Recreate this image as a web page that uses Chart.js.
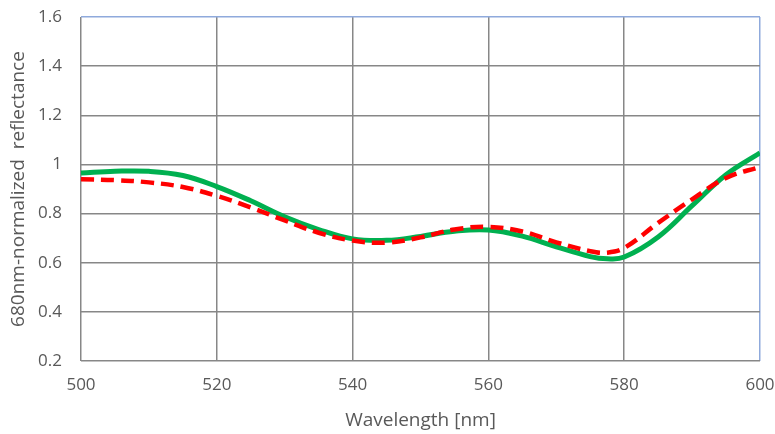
<!DOCTYPE html>
<html>
<head>
<meta charset="utf-8">
<script src="https://cdn.jsdelivr.net/npm/chart.js@4/dist/chart.umd.min.js"></script>
<style>
  html, body { margin: 0; padding: 0; background: #ffffff; }
  #wrap { width: 775px; height: 434px; position: relative; }
</style>
</head>
<body>
<div id="wrap"><canvas id="c" width="775" height="434"></canvas></div>
<script>
// ---- data ----
const wavelengths = [500, 505, 510, 515, 520, 525, 530, 535, 540, 545, 550, 555, 560, 565, 570, 575, 577.5, 580, 585, 590, 595, 600];
const greenReflectance = [0.965, 0.972, 0.972, 0.955, 0.910, 0.852, 0.787, 0.735, 0.697, 0.691, 0.707, 0.728, 0.733, 0.708, 0.665, 0.625, 0.616, 0.623, 0.705, 0.832, 0.958, 1.047];
const redReflectance   = [0.940, 0.936, 0.927, 0.908, 0.872, 0.825, 0.772, 0.722, 0.690, 0.682, 0.703, 0.735, 0.746, 0.727, 0.683, 0.647, 0.641, 0.660, 0.762, 0.858, 0.945, 0.990];
const xTickValues = [500, 520, 540, 560, 580, 600];
const yTickValues = [0.2, 0.4, 0.6, 0.8, 1.0, 1.2, 1.4, 1.6];
const yTickLabels = ['0.2', '0.4', '0.6', '0.8', '1', '1.2', '1.4', '1.6'];
const xTitle = 'Wavelength [nm]';
const yTitle = '680nm-normalized  reflectance';

const toPoints = (xs, ys) => xs.map((x, i) => ({ x: x, y: ys[i] }));

const GRID = '#878787';
const EDGE = '#8faadc';
const TEXT = '#595959';
const FONT = '"Open Sans", "Liberation Sans", sans-serif';

new Chart(document.getElementById('c'), {
  type: 'line',
  data: {
    datasets: [
      {
        label: 'green',
        data: toPoints(wavelengths, greenReflectance),
        borderColor: '#00b050',
        borderWidth: 5,
        pointRadius: 0,
        tension: 0.4,
        fill: false,
        order: 1
      },
      {
        label: 'red',
        data: toPoints(wavelengths, redReflectance),
        borderColor: '#ff0000',
        borderWidth: 4.5,
        borderDash: [13, 7],
        borderCapStyle: 'butt',
        pointRadius: 0,
        tension: 0.4,
        fill: false,
        order: 0
      }
    ]
  },
  options: {
    responsive: false,
    animation: false,
    events: [],
    layout: { padding: { left: 0, right: 15, top: 17, bottom: 0 } },
    plugins: { legend: { display: false }, tooltip: { enabled: false } },
    scales: {
      x: {
        type: 'linear',
        min: 500,
        max: 600,
        afterBuildTicks: s => { s.ticks = xTickValues.map(v => ({ value: v })); },
        afterFit: s => { s.height = 73; s.paddingLeft = 0; s.paddingRight = 0; },
        grid: {
          color: c => (c.tick && c.tick.value === 600 ? EDGE : GRID),
          lineWidth: 1.5,
          drawTicks: false
        },
        border: { display: false },
        ticks: {
          padding: 14,
          color: TEXT,
          font: { family: FONT, size: 17 },
          maxRotation: 0,
          callback: v => String(v)
        },
        title: {
          display: true,
          text: xTitle,
          color: TEXT,
          font: { family: FONT, size: 19 },
          padding: { top: 0, bottom: 2 }
        }
      },
      y: {
        type: 'linear',
        min: 0.2,
        max: 1.6,
        afterBuildTicks: s => { s.ticks = yTickValues.map(v => ({ value: v })); },
        afterFit: s => { s.width = 81; s.paddingTop = 0; s.paddingBottom = 0; },
        grid: {
          color: c => (c.tick && Math.abs(c.tick.value - 1.6) < 1e-9 ? EDGE : GRID),
          lineWidth: 1.5,
          drawTicks: false
        },
        border: { display: false },
        ticks: {
          padding: 19,
          color: TEXT,
          font: { family: FONT, size: 17 },
          callback: v => {
            const i = yTickValues.findIndex(t => Math.abs(t - v) < 1e-9);
            return i >= 0 ? yTickLabels[i] : '';
          }
        },
        title: {
          display: true,
          text: yTitle,
          color: TEXT,
          font: { family: FONT, size: 19 },
          padding: { top: 7, bottom: 0 }
        }
      }
    }
  }
});
</script>
</body>
</html>
